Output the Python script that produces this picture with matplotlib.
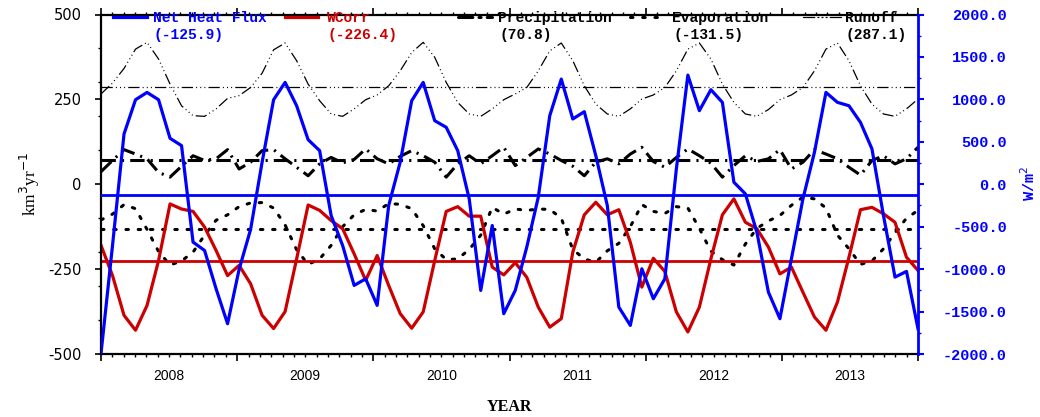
import numpy as np
import matplotlib
matplotlib.use("Agg")
import matplotlib.pyplot as plt
from matplotlib.lines import Line2D
from matplotlib.ticker import FixedLocator, FormatStrFormatter

plt.rcParams['axes.unicode_minus'] = False

# monthly series, Jan 2008 .. Dec 2013
n_months = 72
years = [2008, 2009, 2010, 2011, 2012, 2013]

net_heat_flux = [  # W/m2, right axis
    -1996, -722, 592, 996, 1082, 996, 541, 455, -682, -780, -1231, -1643,
    -1004, -533, 259, 996, 1200, 925, 525, 396, -369, -722, -1192, -1114,
    -1427, -251, 259, 984, 1200, 749, 671, 396, -173, -1251, -486, -1525,
    -1251, -741, -153, 808, 1239, 769, 855, 337, -251, -1447, -1663, -996,
    -1349, -1114, 180, 1286, 867, 1114, 965, 24, -114, -565, -1271, -1584,
    -878, -173, 376, 1082, 965, 925, 729, 416, -369, -1094, -1027, -1702,
]
wcorr = [  # km3/yr
    -180, -269, -386, -430, -357, -225, -58, -73, -80, -126, -195, -269,
    -239, -293, -386, -425, -375, -220, -61, -77, -107, -131, -205, -283,
    -210, -298, -381, -424, -376, -225, -80, -66, -94, -94, -244, -267,
    -231, -274, -362, -421, -396, -200, -90, -53, -90, -75, -171, -303,
    -218, -257, -376, -435, -362, -220, -90, -43, -112, -131, -185, -264,
    -244, -318, -391, -430, -347, -215, -75, -68, -87, -112, -215, -254,
]
precipitation = [
    37, 70, 102, 89, 75, 35, 21, 53, 84, 70, 75, 102,
    45, 65, 99, 102, 75, 50, 25, 60, 79, 63, 73, 104,
    75, 60, 82, 99, 84, 65, 21, 60, 84, 60, 84, 109,
    55, 79, 104, 89, 70, 53, 25, 65, 75, 60, 89, 109,
    67, 50, 79, 104, 84, 62, 21, 55, 84, 67, 75, 102,
    45, 65, 102, 89, 75, 50, 27, 70, 84, 60, 75, 109,
]
evaporation = [
    -105, -88, -60, -72, -133, -198, -238, -226, -200, -150, -106, -90,
    -66, -55, -54, -70, -120, -193, -236, -220, -180, -125, -90, -74,
    -79, -57, -59, -72, -122, -190, -222, -220, -192, -150, -68, -88,
    -73, -77, -73, -74, -100, -192, -220, -230, -196, -174, -125, -60,
    -80, -86, -66, -70, -130, -197, -222, -238, -176, -130, -108, -92,
    -62, -38, -43, -70, -150, -190, -236, -226, -190, -143, -100, -77,
]
runoff = [
    266, 298, 341, 398, 418, 369, 295, 231, 202, 200, 222, 253,
    261, 285, 327, 396, 416, 364, 295, 246, 207, 200, 222, 249,
    263, 290, 334, 388, 418, 374, 300, 241, 207, 200, 222, 249,
    266, 285, 334, 393, 416, 364, 290, 236, 207, 200, 222, 251,
    263, 285, 334, 398, 416, 369, 295, 241, 207, 200, 220, 249,
    263, 285, 334, 398, 416, 364, 290, 236, 207, 200, 222, 251,
]
means = {"Net Heat Flux": -125.9, "WCorr": -226.4, "Precipitation": 70.8,
         "Evaporation": -131.5, "Runoff": 287.1}

t = np.linspace(2008, 2014, n_months)

blue = "#0000ff"
red = "#cc0000"
precip_ls = (0, (4.7, 2.0, 0.7, 2.0))
evap_ls = (0, (0.8, 3.2))
runoff_ls = (0, (9, 2.5, 0.8, 2.5, 0.8, 2.5, 0.8, 2.5))

fig = plt.figure(figsize=(10.4, 4.17), dpi=100)
ax = fig.add_axes([101 / 1040, 1 - 354 / 417, 817 / 1040, 339.5 / 417])
ax2 = ax.twinx()

# black water-budget terms + means
ax.plot(t, runoff, color="black", lw=0.9, ls=runoff_ls)
ax.axhline(means["Runoff"], color="black", lw=0.9, ls=runoff_ls)
ax.plot(t, precipitation, color="black", lw=2.2, ls=precip_ls)
ax.axhline(means["Precipitation"], color="black", lw=2.2, ls=precip_ls)
ax.plot(t, evaporation, color="black", lw=2.2, ls=evap_ls, dash_capstyle="round")
ax.axhline(means["Evaporation"], color="black", lw=2.2, ls=evap_ls,
           dash_capstyle="round")
ax.plot(t, wcorr, color=red, lw=2.3)
ax.axhline(means["WCorr"], color=red, lw=2.0)

ax2.plot(t, net_heat_flux, color=blue, lw=2.3)
ax2.axhline(means["Net Heat Flux"], color=blue, lw=2.0)

ax.set_xlim(2008, 2014)
ax.set_ylim(-500, 500)
ax2.set_ylim(-2000, 2000)

# x axis: year ticks, monthly minor ticks, labels mid-year
ax.set_xticks(np.arange(2008, 2015))
ax.set_xticklabels([])
ax.xaxis.set_minor_locator(FixedLocator(np.arange(2008, 2014.001, 1 / 12)))
ax.tick_params(axis="x", which="major", direction="out", length=5, width=1.2,
               top=True, bottom=True)
ax.tick_params(axis="x", which="minor", direction="out", length=2.5, width=1,
               top=True, bottom=True)
for yr in years:
    ax.text(yr + 0.5, -0.065, str(yr), transform=ax.get_xaxis_transform(),
            ha="center", va="center", fontsize=10, family="Liberation Sans")
ax.text(0.5, -0.155, "YEAR", transform=ax.transAxes, ha="center", va="center",
        fontsize=11.5, fontweight="bold", family="Liberation Serif")

# left axis
ax.set_yticks([-500, -250, 0, 250, 500])
ax.yaxis.set_minor_locator(FixedLocator([-400, -300, -200, -100, 100, 200, 300, 400]))
ax.tick_params(axis="y", which="major", direction="out", length=4, width=1.2,
               pad=10, labelsize=10.5)
ax.tick_params(axis="y", which="minor", direction="out", length=2, width=1)
for lab in ax.get_yticklabels():
    lab.set_family("DejaVu Sans")
fig.text(30 / 1040, 1 - 184 / 417, r"km$^3$yr$^{-1}$", rotation=90,
         ha="center", va="center", fontsize=12.5, family="Liberation Serif")

# right axis
ax2.set_yticks(np.arange(-2000, 2001, 500))
ax2.yaxis.set_minor_locator(FixedLocator(np.arange(-1750, 2000, 500)))
ax2.yaxis.set_major_formatter(FormatStrFormatter("%.1f"))
ax2.tick_params(axis="y", which="major", direction="out", length=4, width=1.5,
                colors=blue, pad=60, labelsize=11)
ax2.tick_params(axis="y", which="minor", direction="out", length=2, width=1,
                colors=blue)
for lab in ax2.get_yticklabels():
    lab.set_family("Liberation Mono")
    lab.set_fontweight("bold")
    lab.set_horizontalalignment("right")
fig.text(1029 / 1040, 1 - 183 / 417, r"W/m$^2$", rotation=90, color=blue,
         ha="center", va="center", fontsize=11, family="Liberation Mono",
         fontweight="bold")

for sp in ["left", "bottom", "top"]:
    ax.spines[sp].set_linewidth(1.6)
ax.spines["right"].set_visible(False)
for sp in ["left", "bottom", "top"]:
    ax2.spines[sp].set_visible(False)
ax2.spines["right"].set_color(blue)
ax2.spines["right"].set_linewidth(2.0)

# legend row along the top
entries = [
    ("Net Heat Flux", blue, 2.3, "-", 113, 147, 153),
    ("WCorr", red, 2.3, "-", 285, 318, 327),
    ("Precipitation", "black", 2.2, precip_ls, 458, 492, 498),
    ("Evaporation", "black", 2.2, evap_ls, 630, 660, 672),
    ("Runoff", "black", 0.9, runoff_ls, 803, 841, 845),
]
for name, col, lw, ls, x0, x1, xt in entries:
    fig.add_artist(Line2D([x0 / 1040, x1 / 1040], [1 - 17 / 417, 1 - 17 / 417],
                          color=col, lw=lw, ls=ls, dash_capstyle="round"))
    fig.text(xt / 1040, 1 - 18 / 417, name, color=col, ha="left",
             va="center", fontsize=10.5, family="Liberation Mono",
             fontweight="bold")
    fig.text((xt + 1) / 1040, 1 - 35 / 417, "(%.1f)" % means[name],
             color=col, ha="left", va="center", fontsize=10.5,
             family="Liberation Mono", fontweight="bold")

fig.savefig("out.png", dpi=100)
